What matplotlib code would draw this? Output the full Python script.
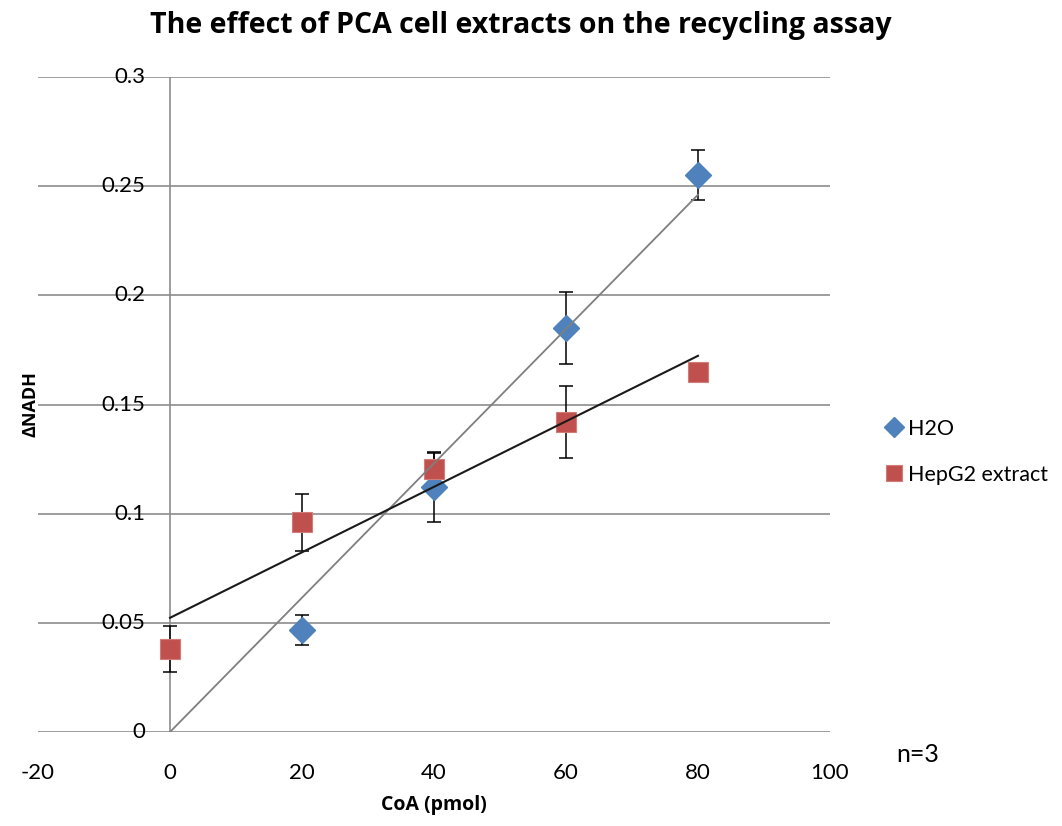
import matplotlib
matplotlib.use('Agg')
import matplotlib.pyplot as plt
import numpy as np

# data
coa = np.array([0, 20, 40, 60, 80])
h2o_x = np.array([20, 40, 60, 80])
h2o_y = np.array([0.0467, 0.112, 0.185, 0.255])
h2o_err = np.array([0.007, 0.016, 0.0165, 0.0115])
hep_x = coa
hep_y = np.array([0.038, 0.096, 0.1205, 0.142, 0.165])
hep_err = np.array([0.0105, 0.013, 0.0078, 0.0165, 0.003])

y_ticks = [0, 0.05, 0.1, 0.15, 0.2, 0.25, 0.3]
y_labels = ['0', '0.05', '0.1', '0.15', '0.2', '0.25', '0.3']
x_ticks = [-20, 0, 20, 40, 60, 80, 100]
x_labels = ['-20', '0', '20', '40', '60', '80', '100']

blue = '#4F81BD'
red = '#C0504D'
grid = '#8C8C8C'
narrow = ['Lato', 'DejaVu Sans']
bold = ['Open Sans', 'DejaVu Sans']

fig = plt.figure(figsize=(10.62, 8.26), dpi=100)
ax = fig.add_axes([38/1062, 1-732/826, (830-38)/1062, (732-77)/826])
ax.set_xlim(-20, 100)
ax.set_ylim(0, 0.3)
for s in ax.spines.values():
    s.set_visible(False)

for yt in y_ticks:
    ax.axhline(yt, color=grid, lw=1.2, zorder=1)
ax.axvline(0, color=grid, lw=1.2, zorder=1)

ax.set_xticks(x_ticks)
ax.set_xticklabels(x_labels, family=narrow, fontsize=16)
ax.set_yticks([])
ax.tick_params(axis='x', length=0, pad=22)
for yt, lab in zip(y_ticks, y_labels):
    ax.annotate(lab, (0, yt), xytext=(-25, 0), textcoords='offset pixels',
                ha='right', va='center', family=narrow, fontsize=16)

# error bars and markers
ax.errorbar(h2o_x, h2o_y, yerr=h2o_err, fmt='none', ecolor='black',
            elinewidth=1.1, capsize=5, capthick=1.1, zorder=2)
ax.errorbar(hep_x, hep_y, yerr=hep_err, fmt='none', ecolor='black',
            elinewidth=1.1, capsize=5, capthick=1.1, zorder=2)
ax.plot(h2o_x, h2o_y, 'D', color=blue, ms=13, mec=blue, zorder=3, label='H2O')
ax.plot(hep_x, hep_y, 's', color=red, ms=15, mec='#D27C7A', mew=0.8,
        zorder=3, label='HepG2 extract')

# trend lines: H2O through origin, HepG2 ordinary least squares
slope0 = np.sum(h2o_x * h2o_y) / np.sum(h2o_x ** 2)
fit_x = np.array([coa.min(), coa.max()])
ax.plot(fit_x, slope0 * fit_x, color='#7F7F7F', lw=1.3, zorder=4)
k, b = np.polyfit(hep_x, hep_y, 1)
ax.plot(fit_x, k * fit_x + b, color='#1A1A1A', lw=1.5, zorder=4)

leg = fig.legend(loc='upper left', bbox_to_anchor=(870/1062, 1-408/826),
                 frameon=False, prop={'family': narrow, 'size': 15.5},
                 handletextpad=0.05, labelspacing=1.2, handlelength=1.2,
                 markerscale=0.75, borderpad=0)

fig.text(521/1062, 1-26/826, 'The effect of PCA cell extracts on the recycling assay',
         ha='center', va='center', fontsize=20.5, fontweight='bold', family=bold)
fig.text(434/1062, 1-805/826, 'CoA (pmol)', ha='center', va='center',
         fontsize=14, fontweight='bold', family=bold)
fig.text(30/1062, 1-404/826, 'ΔNADH', ha='center', va='center', rotation=90,
         fontsize=13, fontweight='bold', family=bold)
fig.text(918/1062, 1-755/826, 'n=3', ha='center', va='center',
         fontsize=18, family=narrow)

fig.savefig('out.png', dpi=100)
